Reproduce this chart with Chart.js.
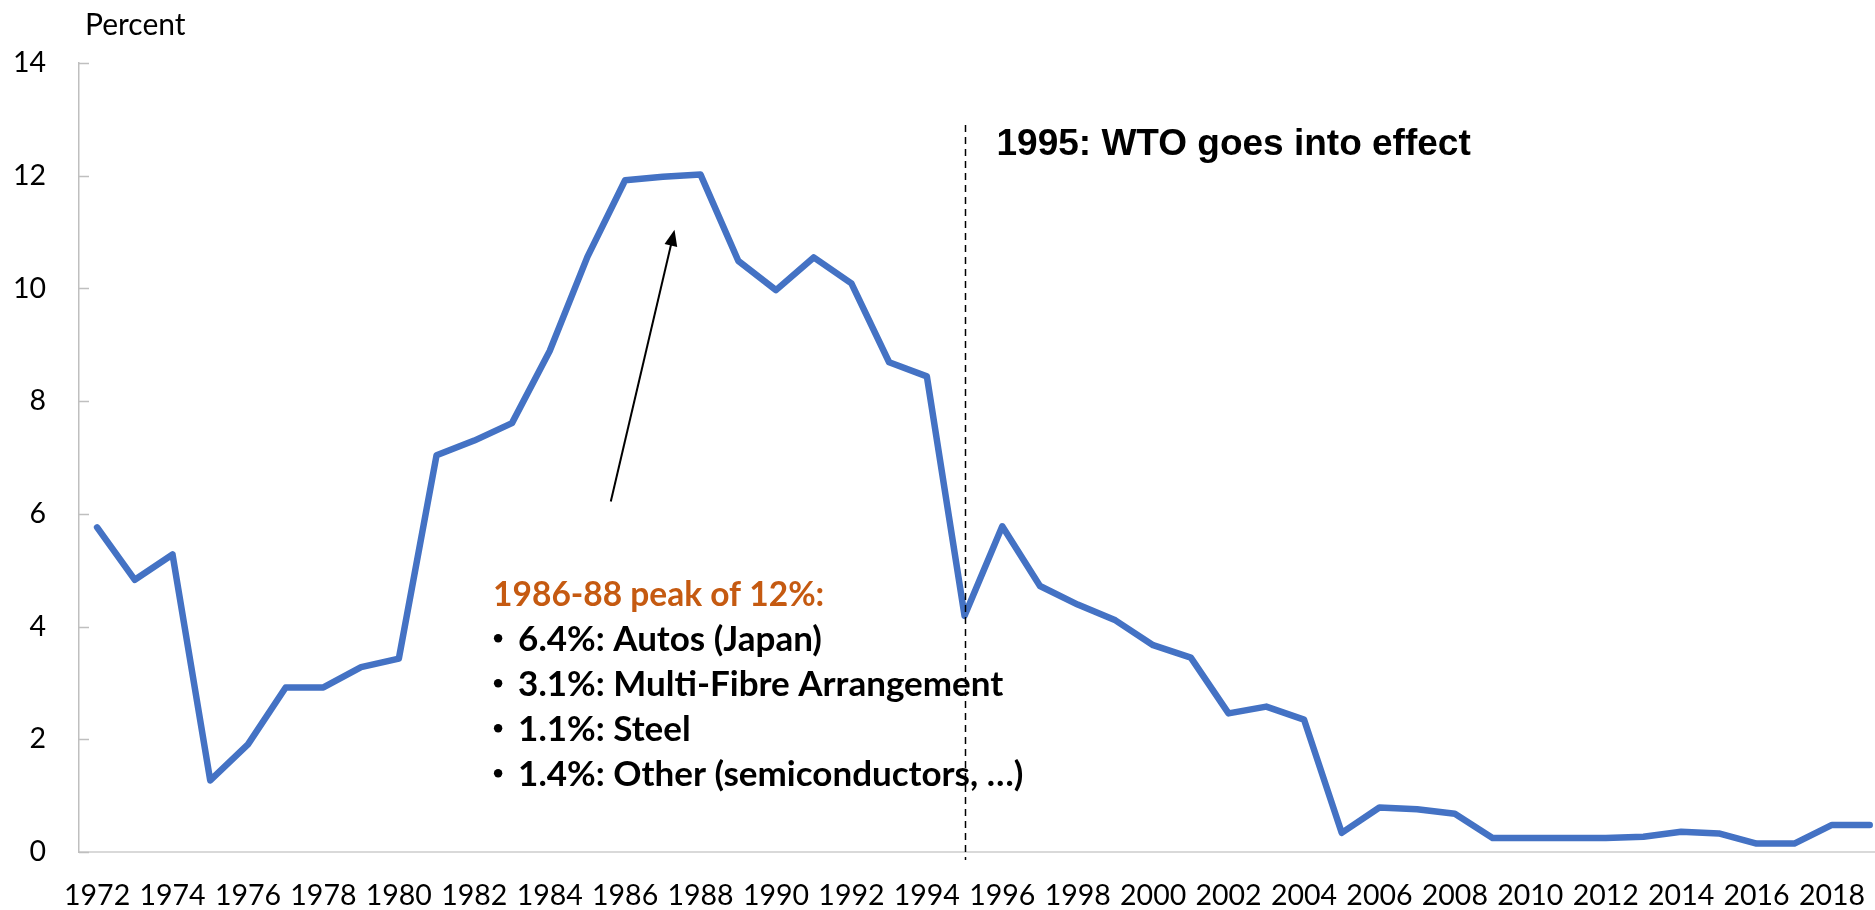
<!DOCTYPE html>
<html lang="en">
<head>
  <meta charset="UTF-8" />
  <title>Share of imports under protection</title>
  <script src="https://cdn.jsdelivr.net/npm/chart.js"></script>
  <style>
    html, body { margin: 0; padding: 0; background: #fff; overflow: hidden; }
    .grafico { width: 1875px; height: 910px; position: relative; }
  </style>
</head>
<body>
  <div class="grafico">
    <canvas id="graficoProtecao"></canvas>
  </div>

  <script>
    // values
    const years = [
      1972, 1973, 1974, 1975, 1976, 1977, 1978, 1979, 1980, 1981,
      1982, 1983, 1984, 1985, 1986, 1987, 1988, 1989, 1990, 1991,
      1992, 1993, 1994, 1995, 1996, 1997, 1998, 1999, 2000, 2001,
      2002, 2003, 2004, 2005, 2006, 2007, 2008, 2009, 2010, 2011,
      2012, 2013, 2014, 2015, 2016, 2017, 2018, 2019
    ];
    const percent = [
      5.76, 4.83, 5.28, 1.27, 1.91, 2.92, 2.92, 3.28, 3.43, 7.04,
      7.30, 7.61, 8.89, 10.56, 11.92, 11.98, 12.02, 10.49, 9.97, 10.55,
      10.09, 8.69, 8.44, 4.19, 5.78, 4.72, 4.39, 4.11, 3.67, 3.45,
      2.46, 2.58, 2.35, 0.34, 0.79, 0.76, 0.68, 0.25, 0.25, 0.25,
      0.25, 0.27, 0.36, 0.33, 0.15, 0.15, 0.48, 0.48
    ];
    const yTicks = [0, 2, 4, 6, 8, 10, 12, 14];
    const xTickYears = [
      1972, 1974, 1976, 1978, 1980, 1982, 1984, 1986, 1988, 1990, 1992, 1994,
      1996, 1998, 2000, 2002, 2004, 2006, 2008, 2010, 2012, 2014, 2016, 2018
    ];

    const wtoYear = 1995;
    const wtoText = '1995: WTO goes into effect';
    const peakTitle = '1986-88 peak of 12%:';
    const peakItems = [
      '6.4%: Autos (Japan)',
      '3.1%: Multi-Fibre Arrangement',
      '1.1%: Steel',
      '1.4%: Other (semiconductors, …)'
    ];

    const anotacoes = {
      id: 'anotacoes',
      afterDatasetsDraw(chart) {
        const { ctx, chartArea, scales: { x, y } } = chart;
        ctx.save();

        // little inside tick marks on the value axis
        ctx.strokeStyle = '#BFBFBF';
        ctx.lineWidth = 1.5;
        yTicks.forEach(v => {
          const py = Math.round(y.getPixelForValue(v)) + 0.5;
          ctx.beginPath();
          ctx.moveTo(chartArea.left, py);
          ctx.lineTo(chartArea.left + 10, py);
          ctx.stroke();
        });

        // dashed WTO line
        const wx = Math.round(x.getPixelForValue(wtoYear)) + 0.5;
        ctx.strokeStyle = '#000';
        ctx.lineWidth = 1.5;
        ctx.setLineDash([7, 5]);
        ctx.beginPath();
        ctx.moveTo(wx, y.getPixelForValue(12.9));
        ctx.lineTo(wx, chartArea.bottom + 8);
        ctx.stroke();
        ctx.setLineDash([]);

        ctx.fillStyle = '#000';
        ctx.font = 'bold 37px "Liberation Sans", Arial, sans-serif';
        ctx.textAlign = 'left';
        ctx.textBaseline = 'alphabetic';
        ctx.fillText(wtoText, wx + 31, y.getPixelForValue(12.37));

        // arrow to the peak
        const x0 = x.getPixelForValue(1985.62), y0 = y.getPixelForValue(6.22);
        const x1 = x.getPixelForValue(1987.31), y1 = y.getPixelForValue(11.04);
        const ang = Math.atan2(y1 - y0, x1 - x0);
        const head = 16;
        ctx.lineWidth = 2;
        ctx.beginPath();
        ctx.moveTo(x0, y0);
        ctx.lineTo(x1 - Math.cos(ang) * head * 0.8, y1 - Math.sin(ang) * head * 0.8);
        ctx.stroke();
        ctx.beginPath();
        ctx.moveTo(x1, y1);
        ctx.lineTo(x1 - Math.cos(ang) * head + Math.sin(ang) * 6.5, y1 - Math.sin(ang) * head - Math.cos(ang) * 6.5);
        ctx.lineTo(x1 - Math.cos(ang) * head - Math.sin(ang) * 6.5, y1 - Math.sin(ang) * head + Math.cos(ang) * 6.5);
        ctx.closePath();
        ctx.fill();

        // peak text block
        const bx = x.getPixelForValue(1982.5);
        let by = y.getPixelForValue(4.36);
        ctx.font = 'bold 33.5px Lato, sans-serif';
        ctx.fillStyle = '#C55A11';
        ctx.fillText(peakTitle, bx, by);
        ctx.fillStyle = '#000';
        ctx.font = 'bold 35px Lato, sans-serif';
        peakItems.forEach(t => {
          by += 45;
          ctx.beginPath();
          ctx.arc(bx + 5, by - 13, 4.2, 0, Math.PI * 2);
          ctx.fill();
          ctx.fillText(t, bx + 25, by);
        });

        // axis title
        ctx.font = '30px Lato, sans-serif';
        ctx.fillText('Percent', chartArea.left + 6, chartArea.top - 28);

        ctx.restore();
      }
    };

    new Chart(document.getElementById('graficoProtecao'), {
      type: 'line',
      data: {
        datasets: [{
          label: 'Percent',
          data: years.map((ano, i) => ({ x: ano, y: percent[i] })),
          borderColor: '#4472C4',
          borderWidth: 6.5,
          borderJoinStyle: 'round',
          borderCapStyle: 'round',
          pointRadius: 0,
          fill: false,
          tension: 0
        }]
      },
      options: {
        responsive: true,
        maintainAspectRatio: false,
        animation: false,
        layout: { padding: { top: 63, right: 0, bottom: 0, left: 0 } },
        plugins: {
          legend: { display: false },
          title: { display: false },
          tooltip: { enabled: false }
        },
        scales: {
          x: {
            type: 'linear',
            min: 1971.52,
            max: 2019.14,
            afterBuildTicks: s => { s.ticks = xTickYears.map(v => ({ value: v })); },
            afterFit: s => { s.height = 58; s.paddingLeft = 0; s.paddingRight = 0; },
            grid: { display: false, drawTicks: false },
            border: { display: true, color: '#D9D9D9', width: 2 },
            ticks: {
              autoSkip: false,
              maxRotation: 0,
              padding: 27,
              color: '#000',
              font: { family: 'Lato', size: 28.5 },
              callback: v => String(v)
            }
          },
          y: {
            min: 0,
            max: 14,
            afterBuildTicks: s => { s.ticks = yTicks.map(v => ({ value: v })); },
            afterFit: s => { s.width = 79; },
            grid: { display: false, drawTicks: false },
            border: { display: true, color: '#BFBFBF', width: 1.5 },
            ticks: {
              padding: 33,
              color: '#000',
              font: { family: 'Lato', size: 28.5 }
            }
          }
        }
      },
      plugins: [anotacoes]
    });
  </script>
</body>
</html>
